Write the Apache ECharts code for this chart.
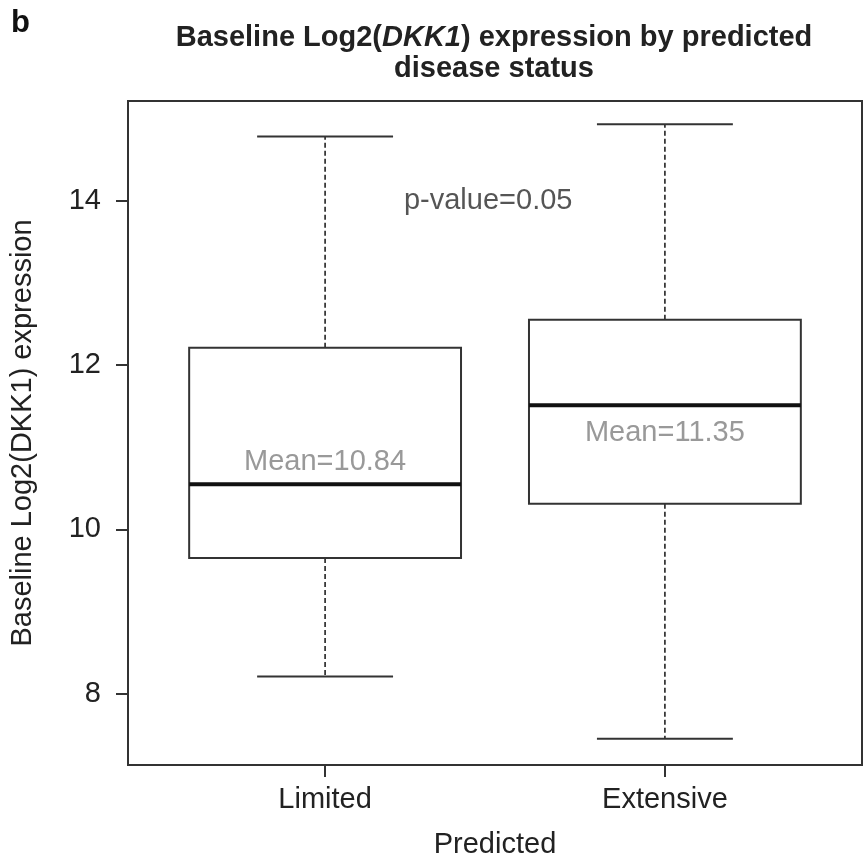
<!DOCTYPE html>
<html>
<head>
<meta charset="utf-8">
<script src="https://cdn.jsdelivr.net/npm/echarts@6/dist/echarts.min.js"></script>
<style>html,body{margin:0;padding:0;background:#fff}#c{width:865px;height:861px}</style>
</head>
<body>
<div id="c"></div>
<script>
// ---- data ----
const categories = ['Limited', 'Extensive'];
const categoryPos = [1, 2];
// [min, q1, median, q3, max]
const limitedStats = [8.21, 9.65, 10.55, 12.21, 14.78];
const extensiveStats = [7.45, 10.31, 11.51, 12.55, 14.93];
const meanLabels = ['Mean=10.84', 'Mean=11.35'];
const meanLabelY = [10.82, 11.17];
const pValueText = 'p-value=0.05';
const pValuePos = [1.48, 14.0];
const yTicks = [8, 10, 12, 14];

const FONT = '"Liberation Sans", Arial, sans-serif';
const FS = 29;

const boxData = [
  [categoryPos[0]].concat(limitedStats),
  [categoryPos[1]].concat(extensiveStats)
];

const chart = echarts.init(document.getElementById('c'));

function renderBox(params, api) {
  const x = api.value(0);
  const mn = api.value(1), q1 = api.value(2), md = api.value(3), q3 = api.value(4), mx = api.value(5);
  const c = v => api.coord([x, v]);
  const half = api.size([0.8, 0])[0] / 2;
  const cap = api.size([0.4, 0])[0] / 2;
  const pMin = c(mn), pQ1 = c(q1), pMd = c(md), pQ3 = c(q3), pMax = c(mx);
  const cx = pMd[0];
  const whisk = { stroke: '#222', lineWidth: 1.6, lineDash: [5, 3] };
  const solid = { stroke: '#333', lineWidth: 2 };
  return {
    type: 'group',
    children: [
      { type: 'line', shape: { x1: cx, y1: pQ3[1], x2: cx, y2: pMax[1] }, style: whisk },
      { type: 'line', shape: { x1: cx, y1: pQ1[1], x2: cx, y2: pMin[1] }, style: whisk },
      { type: 'line', shape: { x1: cx - cap, y1: pMax[1], x2: cx + cap, y2: pMax[1] }, style: solid },
      { type: 'line', shape: { x1: cx - cap, y1: pMin[1], x2: cx + cap, y2: pMin[1] }, style: solid },
      { type: 'rect', shape: { x: cx - half, y: pQ3[1], width: 2 * half, height: pQ1[1] - pQ3[1] },
        style: { fill: 'none', stroke: '#333', lineWidth: 2 } },
      { type: 'line', shape: { x1: cx - half, y1: pMd[1], x2: cx + half, y2: pMd[1] },
        style: { stroke: '#111', lineWidth: 4 } }
    ]
  };
}

const option = {
  animation: false,
  backgroundColor: '#fff',
  grid: { left: 128, right: 3, top: 101, bottom: 96, show: true, borderColor: '#333', borderWidth: 2,
    backgroundColor: 'transparent', containLabel: false, outerBoundsMode: 'none' },
  xAxis: {
    type: 'value', min: 0.42, max: 2.58,
    axisLine: { show: false },
    splitLine: { show: false },
    axisTick: { show: true, customValues: categoryPos, length: 12, inside: false, lineStyle: { color: '#333', width: 2 } },
    axisLabel: { customValues: categoryPos, margin: 20, color: '#222', fontSize: FS, fontFamily: FONT,
      formatter: v => categories[categoryPos.indexOf(Math.round(v))] || '' },
    name: 'Predicted', nameLocation: 'middle', nameGap: 65,
    nameTextStyle: { color: '#222', fontSize: FS, fontFamily: FONT }
  },
  yAxis: {
    type: 'value', min: 7.132, max: 15.213,
    axisLine: { show: false },
    splitLine: { show: false },
    axisTick: { show: true, customValues: yTicks, length: 12, inside: false, lineStyle: { color: '#333', width: 2 } },
    axisLabel: { customValues: yTicks, margin: 27, color: '#222', fontSize: FS, fontFamily: FONT },
    name: 'Baseline Log2(DKK1) expression', nameLocation: 'middle', nameGap: 91,
    nameTextStyle: { color: '#222', fontSize: FS, fontFamily: FONT }
  },
  series: [
    {
      type: 'custom',
      renderItem: renderBox,
      data: boxData,
      encode: { x: 0, y: [1, 2, 3, 4, 5] },
      clip: false,
      z: 2
    },
    {
      type: 'scatter',
      symbolSize: 0,
      data: [
        { value: [categoryPos[0], meanLabelY[0]], name: meanLabels[0] },
        { value: [categoryPos[1], meanLabelY[1]], name: meanLabels[1] }
      ],
      label: { show: true, position: 'inside', formatter: p => p.name, color: '#808080', fontSize: FS, fontFamily: FONT },
      z: 3
    },
    {
      type: 'scatter',
      symbolSize: 0,
      data: [{ value: pValuePos, name: pValueText }],
      label: { show: true, position: 'inside', formatter: p => p.name, color: '#2a2a2a', fontSize: FS, fontFamily: FONT },
      z: 3
    }
  ],
  graphic: [
    { type: 'text', left: 11, top: 8, style: { text: 'b', font: 'bold 31px ' + FONT, fill: '#111' } },
    { type: 'text', x: 494, y: 38, style: {
        text: '{b|Baseline Log2(}{i|DKK1}{b|) expression by predicted}',
        align: 'center', verticalAlign: 'middle',
        rich: {
          b: { font: 'bold 29px ' + FONT, fill: '#222' },
          i: { font: 'italic bold 29px ' + FONT, fill: '#222' }
        }
      } },
    { type: 'text', x: 494, y: 69, style: {
        text: 'disease status', align: 'center', verticalAlign: 'middle',
        font: 'bold 29px ' + FONT, fill: '#222' } }
  ]
};
chart.setOption(option);
</script>
</body>
</html>
